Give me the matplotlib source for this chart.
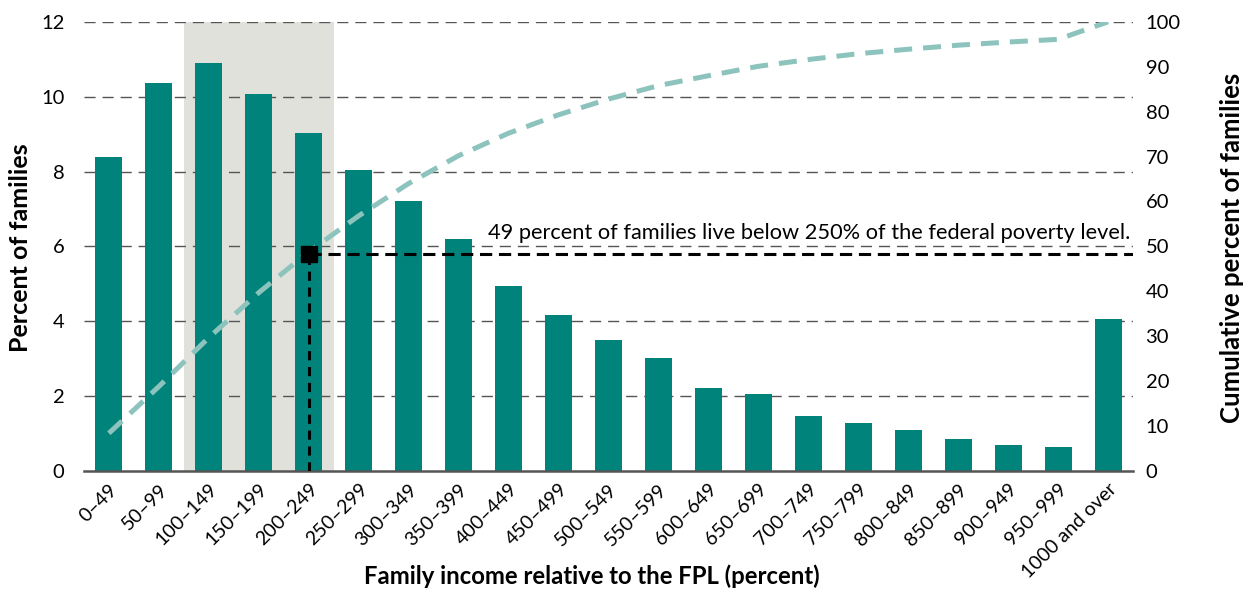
import matplotlib
matplotlib.use('Agg')
import matplotlib.pyplot as plt

plt.rcParams['font.family'] = ['Lato', 'DejaVu Sans']

# income brackets relative to the FPL
brackets = ['0–49', '50–99', '100–149', '150–199', '200–249', '250–299', '300–349',
            '350–399', '400–449', '450–499', '500–549', '550–599', '600–649', '650–699',
            '700–749', '750–799', '800–849', '850–899', '900–949', '950–999', '1000 and over']
# percent of families in each bracket
pct_families = [8.39, 10.37, 10.90, 10.07, 9.03, 8.04, 7.21, 6.20, 4.94, 4.17, 3.50,
                3.01, 2.22, 2.05, 1.47, 1.28, 1.09, 0.85, 0.69, 0.64, 4.06]
# cumulative percent of families
cum_pct = [8.4, 18.8, 29.7, 39.7, 48.8, 56.8, 64.0, 70.2, 75.2, 79.3, 82.8,
           85.8, 88.0, 90.1, 91.6, 92.9, 93.9, 94.8, 95.5, 96.1, 100.0]

left_ticks = [0, 2, 4, 6, 8, 10, 12]
right_ticks = [0, 10, 20, 30, 40, 50, 60, 70, 80, 90, 100]
shade_from, shade_to = '100–149', '200–249'
marker_bracket = '200–249'
marker_value = 48.3
note = '49 percent of families live below 250% of the federal poverty level.'

bar_col = '#00837a'
line_col = '#8dc3bd'

fig = plt.figure(figsize=(12.52, 5.90), dpi=100)
ax = fig.add_axes([0.067, 0.2017, 0.838, 0.7613])
x = list(range(len(brackets)))

# grey band behind the low-income brackets
ax.axvspan(brackets.index(shade_from) - 0.5, brackets.index(shade_to) + 0.5,
           color='#e1e1dc', lw=0, zorder=0)

for t in left_ticks[1:]:
    ax.axhline(t, color='#555555', lw=1, dashes=(8, 5), zorder=1)

ax.bar(x, pct_families, width=0.54, color=bar_col, zorder=2)

ax.set_xlim(-0.5, len(brackets) - 0.5)
ax.set_ylim(0, 12)
ax.set_yticks(left_ticks)
ax.set_xticks(x)
ax.set_xticklabels(brackets, rotation=45, ha='right', rotation_mode='anchor', fontsize=14)
ax.tick_params(axis='both', length=0, labelsize=14.5)
ax.tick_params(axis='x', labelsize=14, pad=7)
ax.tick_params(axis='y', pad=14)
for s in ['top', 'left', 'right']:
    ax.spines[s].set_visible(False)
ax.spines['bottom'].set_color('#555555')
ax.spines['bottom'].set_linewidth(1.8)
ax.spines['bottom'].set_zorder(5)

ax2 = ax.twinx()
ax2.set_ylim(0, 100)
ax2.set_yticks(right_ticks)
ax2.tick_params(axis='y', length=0, labelsize=14.5, pad=9)
for s in ['top', 'left', 'right', 'bottom']:
    ax2.spines[s].set_visible(False)

ax2.plot(x, cum_pct, color=line_col, lw=3.6, dashes=(3.6, 2.2), zorder=3)

mx = brackets.index(marker_bracket)
ax2.plot([mx, len(brackets) - 0.5], [marker_value, marker_value], color='black', lw=2.2,
         dashes=(4, 2.2), zorder=4)
ax2.plot([mx, mx], [0, marker_value], color='black', lw=2.2, dashes=(3, 2.2), zorder=4)
ax2.plot([mx], [marker_value], marker='s', color='black', ms=11.5, zorder=5)
ax2.text(len(brackets) - 0.55, marker_value + 2.5, note, ha='right', va='bottom', fontsize=15.7)

# axis titles placed directly on the figure
fig.text(21 / 1252, 1 - 248 / 590, 'Percent of families', rotation=90, ha='center', va='center',
         fontsize=18, fontweight='bold')
fig.text(1232 / 1252, 1 - 248 / 590, 'Cumulative percent of families', rotation=90, ha='center',
         va='center', fontsize=18.5, fontweight='bold')
fig.text(592 / 1252, 1 - 584 / 590, 'Family income relative to the FPL (percent)', ha='center',
         va='baseline', fontsize=17.2, fontweight='bold')

fig.savefig('out.png', dpi=100)
